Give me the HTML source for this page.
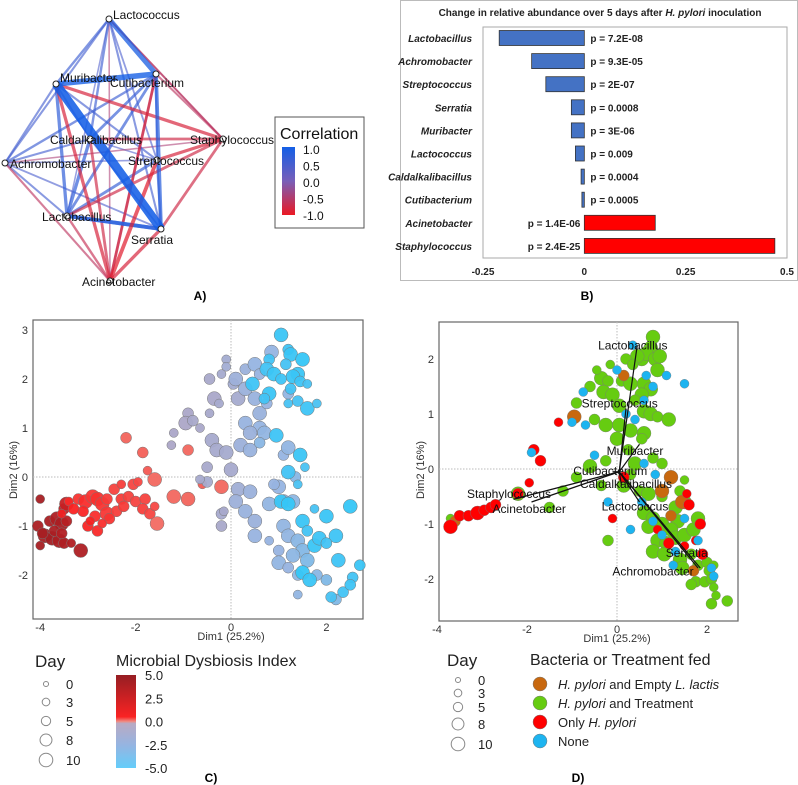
<!DOCTYPE html>
<html><head><meta charset="utf-8"><style>
body{margin:0;background:#fff;}
svg{display:block;font-family:"Liberation Sans",sans-serif;}
</style></head><body>
<svg id="fig" width="798" height="785" viewBox="0 0 798 785">
<g id="pA"></g>
<g id="pB"></g>
<g id="pC"></g>
<g id="pD"></g>
</svg>
<script>
// ---------- Panel A data ----------
const nodeNames=["Lactococcus","Muribacter","Cutibacterium","Caldalkalibacillus","Staphylococcus","Achromobacter","Streptococcus","Lactobacillus","Serratia","Acinetobacter"];
const edgeFrom=[1,0,0,2,7,3,0,0,0,0,0,0,1,1,1,1,1,2,2,2,2,3,3,3,3,5,5,5,6,6,7,4,4,4,4,4,4,4,4,9,9,9,9,9,9,9,9];
const edgeTo  =[8,2,1,8,8,2,5,3,6,7,8,4,5,3,6,7,2,5,6,7,9,5,6,7,8,6,7,8,7,8,8,1,2,3,5,6,7,8,0,1,2,3,5,6,7,8,0];
const edgeR   =[0.95,0.7,0.45,0.6,0.6,0.5,0.4,0.45,0.35,0.3,0.4,-0.4,0.4,0.35,0.4,0.55,0.75,0.45,0.4,0.5,-0.45,0.4,0.3,0.55,0.35,0.3,0.4,0.35,0.5,0.45,0.6,-0.55,-0.4,-0.5,-0.3,-0.55,-0.5,-0.5,-0.3,-0.55,-0.5,-0.5,-0.4,-0.6,-0.45,-0.55,-0.3];
// ---------- Panel B data ----------
const barGenera=["Lactobacillus","Achromobacter","Streptococcus","Serratia","Muribacter","Lactococcus","Caldalkalibacillus","Cutibacterium","Acinetobacter","Staphylococcus"];
const barValues=[-0.21,-0.13,-0.095,-0.032,-0.032,-0.022,-0.008,-0.006,0.175,0.47];
const barPvals=["p = 7.2E-08","p = 9.3E-05","p = 2E-07","p = 0.0008","p = 3E-06","p = 0.009","p = 0.0004","p = 0.0005","p = 1.4E-06","p = 2.4E-25"];
const barTicks=[-0.25,0,0.25,0.5];
const barTickLabels=["-0.25","0","0.25","0.5"];
// ---------- Panel C data ----------
const cX=[-4.0,-3.8,-3.65,-3.55,-3.45,-3.9,-3.75,-3.6,-3.5,-3.35,-4.05,-4.0,-3.15,-3.5,-3.45,-3.7,-3.95,-3.55,
-3.4,-3.2,-3.05,-2.9,-2.8,-2.7,-2.6,-3.1,-2.85,-2.6,-2.4,-2.3,-2.15,-2.0,-1.8,-1.85,-1.7,-1.6,-2.25,-2.45,-2.3,-2.05,-1.95,-3.3,-3.0,-2.8,-2.95,-3.55,-2.55,-2.7,
-2.2,-1.85,-1.6,-1.2,-0.9,-1.55,-0.2,-0.6,-1.75,-0.9,
-0.45,-0.35,-0.25,-0.9,-0.95,-0.8,-0.65,-1.2,-1.25,-0.45,-0.4,-0.3,-0.1,0.05,0.0,-0.5,0.15,-0.5,-0.65,0.15,-0.2,-0.2,-0.15,-0.1,-0.1,-0.2,
0.3,0.5,0.6,0.1,0.3,0.5,0.6,0.3,0.6,0.4,0.7,0.2,0.4,0.6,1.1,1.2,0.4,0.1,0.3,0.5,0.5,0.8,1.0,0.9,1.1,1.3,1.1,1.2,1.4,1.5,1.0,1.3,1.6,1.4,1.8,2.0,1.4,1.0,1.2,2.2,0.8,0.85,1.2,0.75,1.35,
1.05,0.8,1.2,1.25,1.5,1.15,1.4,0.45,0.75,0.9,1.05,1.25,1.3,1.45,1.6,0.8,1.4,0.7,1.6,1.8,1.2,0.95,1.45,1.2,1.05,1.2,1.5,1.6,1.75,1.85,2.0,2.5,2.2,1.5,1.65,2.25,2.1,2.35,2.55,2.5,2.7,1.4,2.0,1.75,1.55];
const cY=[-0.45,-0.9,-0.85,-0.95,-0.9,-1.2,-1.25,-1.3,-1.35,-1.35,-1.0,-1.4,-1.5,-0.65,-0.55,-1.1,-1.15,-1.15,
-0.5,-0.45,-0.5,-0.4,-0.45,-0.55,-0.45,-0.7,-0.8,-0.75,-0.7,-0.45,-0.4,-0.5,-0.45,-0.65,-0.75,-0.6,-0.6,-0.25,-0.15,-0.15,-0.1,-0.65,-1.0,-1.1,-0.9,-0.75,-0.85,-0.95,
0.8,0.5,-0.05,-0.4,-0.45,-0.95,-0.2,-0.15,0.13,0.55,
2.0,1.6,1.5,1.3,1.1,1.15,1.0,0.9,0.65,1.3,0.75,0.55,0.5,1.9,0.15,0.2,1.6,-0.1,-0.05,-0.25,-0.75,-1.0,-0.7,2.4,2.25,2.1,
2.2,2.3,2.1,2.0,1.8,1.6,1.3,1.1,1.0,0.9,0.9,0.65,0.55,0.7,0.45,0.6,-0.3,-0.5,-0.7,-0.9,-1.2,-0.55,-0.2,-0.15,-0.5,-0.5,-1.0,-1.2,-1.3,-1.5,-1.5,-1.6,-1.7,-2.0,-2.0,-2.1,-2.4,-1.75,-1.85,-2.5,-1.3,2.55,1.7,1.5,0.0,
2.9,2.4,2.6,2.5,2.4,2.3,2.1,1.9,2.2,2.1,2.0,1.8,2.05,1.95,1.9,1.7,1.55,1.6,1.4,1.5,1.5,0.85,0.45,0.1,-0.5,-0.55,-0.9,-1.1,-1.4,-1.25,-0.8,-0.6,-1.2,-1.95,-2.1,-1.7,-2.45,-2.35,-2.05,-2.2,-1.8,-0.15,-1.35,-0.65,0.2];
const cDay=[3,5,8,8,5,8,8,8,5,3,5,3,8,5,8,5,5,5,
3,5,8,8,8,8,5,5,5,8,5,5,5,5,5,5,5,3,5,5,3,5,3,5,5,5,3,3,5,3,
5,5,8,8,8,8,8,3,3,5,
5,8,3,5,8,5,3,3,3,3,8,8,8,5,8,5,8,5,3,8,5,5,3,3,3,3,
5,8,5,8,8,8,8,8,8,8,8,8,8,5,5,8,8,8,8,8,8,8,8,5,8,8,8,8,8,8,5,8,8,5,5,5,3,8,5,5,3,8,5,5,5,
8,5,5,8,8,5,8,8,8,8,5,5,8,5,3,8,5,5,8,3,3,8,8,8,8,8,8,5,8,8,8,8,8,8,8,8,5,5,5,5,5,3,5,3,3];
const cMdi=[4.6,4.5,4.4,4.5,4.2,4.6,4.7,4.5,4.4,4.3,4.5,4.6,4.4,4.0,3.8,4.5,4.6,4.3,
2.3,2.0,2.2,1.9,2.1,2.0,1.8,2.4,2.2,1.9,1.7,1.8,1.6,1.5,1.6,1.7,1.5,1.4,1.8,1.6,1.7,1.5,1.4,2.5,2.4,2.3,2.6,2.8,2.0,2.2,
0.6,0.7,0.5,0.5,0.6,0.4,0.5,0.8,0.9,0.5,
-0.6,-0.5,-0.8,-0.4,-0.3,-0.6,-0.5,-0.4,-0.3,-0.7,-0.8,-0.9,-1.0,-1.2,-0.9,-0.7,-1.0,-1.0,-0.8,-1.5,-0.8,-0.6,-0.7,-1.2,-1.3,-1.0,
-2.0,-2.5,-2.3,-1.8,-2.0,-2.2,-2.1,-2.3,-2.5,-2.0,-2.6,-1.9,-2.2,-2.8,-2.5,-2.6,-2.0,-1.8,-2.2,-2.0,-2.3,-2.6,-2.5,-2.4,-2.5,-2.7,-2.6,-2.6,-2.8,-2.9,-2.4,-2.7,-3.0,-2.7,-2.8,-3.0,-2.6,-2.6,-2.4,-3.0,-2.4,-2.5,-2.6,-2.4,-2.8,
-4.6,-4.4,-4.5,-4.6,-4.7,-4.3,-4.6,-4.5,-4.4,-4.6,-4.5,-4.4,-4.6,-4.5,-4.3,-4.6,-4.3,-4.4,-4.5,-4.2,-4.3,-4.5,-4.6,-4.4,-4.6,-4.7,-4.6,-4.4,-4.6,-4.5,-4.6,-4.7,-4.5,-4.7,-4.6,-4.5,-4.3,-4.4,-4.4,-4.5,-4.6,-4.2,-4.4,-4.3,-4.2];
const cXTicks=[-4,-2,0,2], cYTicks=[-2,-1,0,1,2,3];
const dayLevels=[0,3,5,8,10];
const mdiTicks=[5,2.5,0,-2.5,-5], mdiTickLabels=["5.0","2.5","0.0","-2.5","-5.0"];
// ---------- Panel D data ----------
const dX=[0.8,0.75,0.55,0.65,0.45,0.85,0.95,0.2,0.35,0.9,-0.35,-0.2,-0.45,0.1,0.3,0.6,0.75,0.55,-0.6,-0.3,-0.1,0.05,0.4,0.6,0.75,0.9,-0.9,-0.5,-0.25,0.05,0.3,0.6,0.55,1.15,0.0,-0.25,0.25,0.4,1.0,-0.6,-0.9,-0.35,0.15,-1.2,-2.2,-1.5,-3.7,0.5,0.7,1.0,1.4,1.5,1.3,1.5,1.35,0.6,0.8,1.0,1.2,0.7,0.9,1.1,1.3,1.5,1.7,1.8,0.8,1.05,1.4,1.45,1.65,1.8,2.0,2.05,2.15,1.75,1.95,2.1,2.15,1.65,2.2,2.1,2.45,-0.2,0.3,0.8,-0.15,
0.15,-0.95,1.2,1.0,1.45,1.2,1.7,-3.6,
-3.7,-3.5,-3.3,-3.1,-2.95,-2.8,-2.7,-2.2,-1.95,-1.85,-1.7,-1.3,0.15,-0.1,1.55,1.6,1.85,1.75,1.5,1.9,0.9,1.15,
0.35,0.0,0.65,1.1,1.5,0.8,-0.75,0.6,0.2,-1.0,-0.7,0.4,-0.5,0.6,0.85,-1.9,-0.2,0.3,0.8,1.0,1.5,1.3,1.25,2.1,2.15,1.8,0.55];
const dY=[2.4,2.2,2.0,2.1,2.05,2.0,2.05,2.0,1.9,1.8,1.65,1.6,1.8,1.6,1.55,1.55,1.45,1.35,1.5,1.4,1.35,1.15,1.25,1.05,1.0,0.95,1.2,0.9,0.8,0.8,0.7,0.65,0.55,0.9,0.55,0.15,0.35,0.1,0.1,0.05,-0.15,-0.3,-0.3,-0.4,-0.45,-0.7,-0.9,-0.4,-0.45,-0.5,-0.4,-0.2,-0.7,-0.6,-0.95,-0.8,-0.9,-1.0,-1.1,-1.05,-1.3,-1.35,-1.25,-1.2,-1.1,-0.9,-1.5,-1.55,-1.65,-1.8,-1.55,-1.75,-1.7,-1.85,-1.75,-2.05,-2.05,-2.0,-2.15,-2.1,-2.3,-2.45,-2.4,-1.3,-0.1,0.2,1.9,
1.7,0.95,-0.15,-0.4,-0.6,-0.85,-1.85,-0.95,
-1.05,-0.85,-0.85,-0.8,-0.75,-0.7,-0.65,-0.45,-0.25,0.35,0.15,0.85,-0.15,-0.9,-0.45,-0.65,-1.0,-1.3,-1.4,-1.55,-1.1,-1.35,
2.25,1.8,1.7,1.7,1.55,1.5,1.4,1.25,1.0,0.85,0.8,0.9,0.25,0.1,-0.1,0.3,-0.6,-1.1,-0.95,-1.2,-0.9,-1.5,-1.75,-1.8,-1.95,-1.3,-0.6];
const dDay=[8,8,8,8,8,8,8,5,5,8,8,5,3,5,8,8,8,8,5,8,8,8,5,8,8,5,5,5,8,8,8,8,5,8,8,5,5,8,5,8,5,5,8,5,8,5,3,5,8,5,5,3,8,8,8,8,8,8,8,8,8,8,8,8,8,8,8,8,8,8,5,5,5,5,3,5,5,5,3,5,3,5,5,5,5,5,3,
5,8,8,8,8,5,5,5,
8,5,5,8,5,5,5,5,3,5,5,3,5,3,3,5,5,3,3,5,3,5,
3,3,3,3,3,3,3,3,3,3,3,3,3,3,3,3,3,3,3,3,3,3,3,3,3,3,3];
const dGroup=[1,1,1,1,1,1,1,1,1,1,1,1,1,1,1,1,1,1,1,1,1,1,1,1,1,1,1,1,1,1,1,1,1,1,1,1,1,1,1,1,1,1,1,1,1,1,1,1,1,1,1,1,1,1,1,1,1,1,1,1,1,1,1,1,1,1,1,1,1,1,1,1,1,1,1,1,1,1,1,1,1,1,1,1,1,1,1,
0,0,0,0,0,0,0,0,
2,2,2,2,2,2,2,2,2,2,2,2,2,2,2,2,2,2,2,2,2,2,
3,3,3,3,3,3,3,3,3,3,3,3,3,3,3,3,3,3,3,3,3,3,3,3,3,3,3];
const groupLabels=["H. pylori and Empty L. lactis","H. pylori and Treatment","Only H. pylori","None"];
const arrowNames=["Lactobacillus","Streptococcus","Muribacter","Cutibacterium","Caldalkalibacillus","Staphylococcus","Acinetobacter","Lactococcus","Serratia","Achromobacter"];
const arrowX=[0.45,0.2,0.5,-0.1,0.1,-2.3,-1.9,0.5,1.85,1.8];
const arrowY=[2.25,1.1,0.45,-0.05,-0.3,-0.55,-0.6,-0.6,-1.8,-1.8];
const arrowLabX=[0.35,0.06,0.4,-0.15,0.2,-2.4,-1.95,0.4,1.55,0.8];
const arrowLabY=[2.25,1.19,0.33,-0.04,-0.27,-0.45,-0.73,-0.68,-1.53,-1.86];
const dXTicks=[-4,-2,0,2], dYTicks=[-2,-1,0,1,2];

const NS="http://www.w3.org/2000/svg";
function mk(parent,tag,attrs,text){const e=document.createElementNS(NS,tag);for(const k in attrs)e.setAttribute(k,attrs[k]);if(text!==undefined)e.textContent=text;parent.appendChild(e);return e;}
function lerp(a,b,t){return a.map((v,i)=>Math.round(v+(b[i]-v)*t));}
function rgb(c){return `rgb(${c[0]},${c[1]},${c[2]})`;}

// ---------- Panel A ----------
(function(){
const g=document.getElementById('pA');
const nX=[109,56,156,90,223,5,157,67,161,110], nY=[19,84,74,139,139,163,160,216,229,281];
const blue=[20,95,230], purple=[120,95,185], red=[235,25,35];
function corrColor(r){return r>=0?lerp(purple,blue,Math.min(1,r*1.3)):lerp(purple,red,Math.min(1,-r*1.5));}
const order=edgeR.map((r,i)=>i).sort((a,b)=>Math.abs(edgeR[a])-Math.abs(edgeR[b]));
order.forEach(i=>{
 const a=edgeFrom[i],b=edgeTo[i],r=edgeR[i];
 const e=mk(g,'line',{x1:nX[a],y1:nY[a],x2:nX[b],y2:nY[b],stroke:rgb(corrColor(r)),'stroke-width':1+9*Math.pow(Math.abs(r),2.3),'stroke-opacity':0.45+0.45*Math.abs(r)});
 
 
});
const lx=[113,60,110,50,190,10,128,42,131,82], ly=[19,82,87,144,144,168,165,221,244,286];
nodeNames.forEach((n,i)=>{
 const c=mk(g,'circle',{cx:nX[i],cy:nY[i],r:3,fill:'#fff',stroke:'#222','stroke-width':1});
 
 
 const t=mk(g,'text',{x:lx[i],y:ly[i],'font-size':12,fill:'#111'},n);
 
 
});
const box=mk(g,'rect',{x:275,y:117,width:89,height:111,fill:'#fff',stroke:'#555','stroke-width':1});

const t=mk(g,'text',{x:280,y:139,'font-size':16,fill:'#111'},'Correlation');

const defs=mk(g,'defs',{});const lg=mk(defs,'linearGradient',{id:'corrg',x1:0,y1:0,x2:0,y2:1});
mk(lg,'stop',{offset:'0','stop-color':rgb(blue)});mk(lg,'stop',{offset:'0.5','stop-color':rgb(purple)});mk(lg,'stop',{offset:'1','stop-color':rgb(red)});
const cb=mk(g,'rect',{x:282,y:147,width:13,height:68,fill:'url(#corrg)'});

["1.0","0.5","0.0","-0.5","-1.0"].forEach((s,i)=>{const tt=mk(g,'text',{x:303,y:154+i*16.5,'font-size':12,fill:'#111'},s);});
const pl=mk(g,'text',{x:200,y:300,'font-size':12,'font-weight':'bold','text-anchor':'middle'},'A)');

})();

// ---------- Panel B ----------
(function(){
const g=document.getElementById('pB');
const outer=mk(g,'rect',{x:400.5,y:0.5,width:397,height:280,fill:'#fff',stroke:'#bbb'});

const title=mk(g,'text',{x:600,y:16,'font-size':10,'font-weight':'bold','text-anchor':'middle',fill:'#222'});

title.innerHTML='Change in relative abundance over 5 days after <tspan font-style="italic">H. pylori</tspan> inoculation';
const box=mk(g,'rect',{x:483,y:27,width:304,height:231,fill:'#fff',stroke:'#aaa'});

const x0=483,x1=787,v0=-0.25,v1=0.5;
const sx=v=>x0+(v-v0)/(v1-v0)*(x1-x0);
barTicks.forEach((v,i)=>{const t=mk(g,'text',{x:sx(v),y:275,'font-size':10,'font-weight':'bold','text-anchor':'middle',fill:'#222'},barTickLabels[i]);});
barGenera.forEach((name,i)=>{
 const cy=38+i*23.1, v=barValues[i];
 const xa=Math.min(sx(0),sx(v)), w=Math.abs(sx(v)-sx(0));
 const r=mk(g,'rect',{x:xa,y:cy-7.5,width:w,height:15,fill:v<0?'#4472c4':'#ff0000',stroke:'#333','stroke-width':0.8});
 
 const l=mk(g,'text',{x:472,y:cy+4,'font-size':10,'font-weight':'bold','font-style':'italic','text-anchor':'end',fill:'#222'},name);
 
 const p=mk(g,'text',{x:v<0?sx(0)+6:sx(0)-4,y:cy+4,'font-size':10,'font-weight':'bold','text-anchor':v<0?'start':'end',fill:'#222'},barPvals[i]);
 
});
const pl=mk(g,'text',{x:587,y:300,'font-size':12,'font-weight':'bold','text-anchor':'middle'},'B)');

})();

function dayR(d){return 3+d*0.5;}

// ---------- Panel C ----------
(function(){
const g=document.getElementById('pC');
const L=33,R=363,T=320,B=619;
const sx=v=>231+v*47.7, sy=v=>477-v*49;
const box=mk(g,'rect',{x:L,y:T,width:R-L,height:B-T,fill:'#fff',stroke:'#666','stroke-width':1.2});

mk(g,'line',{x1:sx(0),y1:T,x2:sx(0),y2:B,stroke:'#bbb','stroke-dasharray':'1.5,1.5'});
mk(g,'line',{x1:L,y1:sy(0),x2:R,y2:sy(0),stroke:'#bbb','stroke-dasharray':'1.5,1.5'});
cXTicks.forEach(v=>{const t=mk(g,'text',{x:sx(v),y:B+12,'font-size':11,'text-anchor':'middle',fill:'#333'},String(v));});
cYTicks.forEach(v=>{const t=mk(g,'text',{x:28,y:sy(v)+4,'font-size':11,'text-anchor':'end',fill:'#333'},String(v));});
const xt=mk(g,'text',{x:231,y:640,'font-size':11,'text-anchor':'middle',fill:'#333'},'Dim1 (25.2%)');
const yt=mk(g,'text',{x:17,y:470,'font-size':11,'text-anchor':'middle',fill:'#333',transform:'rotate(-90 17 470)'},'Dim2 (16%)');
const dark=[150,30,35], red=[250,35,35], cyan=[40,200,250];
function mdiCol(m){ if(m>=2.5) return lerp(red,dark,(m-2.5)/2.5); if(m>=0) return lerp([240,120,110],red,m/2.5); if(m>=-2.5) return lerp([175,165,195],[150,180,225],-m/2.5); return lerp([150,180,225],cyan,(-m-2.5)/2.5);}
cX.forEach((x,i)=>{
 const c=mk(g,'circle',{cx:sx(x),cy:sy(cY[i]),r:dayR(cDay[i]),fill:rgb(mdiCol(cMdi[i])),stroke:'#777','stroke-width':0.5,'fill-opacity':0.95});
 
 
});
const dt=mk(g,'text',{x:35,y:667,'font-size':17,fill:'#222'},'Day');
const ly=[684,702,721,740,760];
dayLevels.forEach((d,i)=>{
 const c=mk(g,'circle',{cx:46,cy:ly[i],r:dayR(d)*0.85,fill:'none',stroke:'#888'});
 const t=mk(g,'text',{x:66,y:ly[i]+5,'font-size':13,fill:'#222'},String(d));
});
const mt=mk(g,'text',{x:116,y:666,'font-size':16,fill:'#222'},'Microbial Dysbiosis Index');
const defs=mk(g,'defs',{});const lg=mk(defs,'linearGradient',{id:'mdig',x1:0,y1:0,x2:0,y2:1});
[[0,dark],[0.45,red],[0.5,[240,140,130]],[0.52,[185,170,195]],[0.75,[150,180,225]],[1,[100,205,250]]].forEach(s=>mk(lg,'stop',{offset:s[0],'stop-color':rgb(s[1])}));
const cb=mk(g,'rect',{x:116,y:675,width:20,height:93,fill:'url(#mdig)'});
mdiTicks.forEach((v,i)=>{const t=mk(g,'text',{x:145,y:675+(5-v)/10*93+5,'font-size':13,fill:'#222'},mdiTickLabels[i]);});
const pl=mk(g,'text',{x:211,y:782,'font-size':12,'font-weight':'bold','text-anchor':'middle'},'C)');

})();

// ---------- Panel D ----------
(function(){
const g=document.getElementById('pD');
const L=439,R=738,T=322,B=621;
const sx=v=>617+v*45, sy=v=>469-v*55;
const box=mk(g,'rect',{x:L,y:T,width:R-L,height:B-T,fill:'#fff',stroke:'#666','stroke-width':1.2});

mk(g,'line',{x1:sx(0),y1:T,x2:sx(0),y2:B,stroke:'#bbb','stroke-dasharray':'1.5,1.5'});
mk(g,'line',{x1:L,y1:sy(0),x2:R,y2:sy(0),stroke:'#bbb','stroke-dasharray':'1.5,1.5'});
dXTicks.forEach(v=>{const t=mk(g,'text',{x:sx(v),y:B+12,'font-size':11,'text-anchor':'middle',fill:'#333'},String(v));});
dYTicks.forEach(v=>{const t=mk(g,'text',{x:434,y:sy(v)+4,'font-size':11,'text-anchor':'end',fill:'#333'},String(v));});
const xt=mk(g,'text',{x:617,y:642,'font-size':11,'text-anchor':'middle',fill:'#333'},'Dim1 (25.2%)');
const yt=mk(g,'text',{x:424,y:470,'font-size':11,'text-anchor':'middle',fill:'#333',transform:'rotate(-90 424 470)'},'Dim2 (16%)');
const gcol=['#c8680f','#66cc11','#ff0000','#1db4f0'];
dX.forEach((x,i)=>{
 const c=mk(g,'circle',{cx:sx(x),cy:sy(dY[i]),r:dayR(dDay[i]),fill:gcol[dGroup[i]],stroke:'#777','stroke-width':0.4});
 
 
});
arrowNames.forEach((n,i)=>{
 const l=mk(g,'line',{x1:sx(0.05),y1:sy(-0.05),x2:sx(arrowX[i]),y2:sy(arrowY[i]),stroke:'#111','stroke-width':1.2});
 
 const t=mk(g,'text',{x:sx(arrowLabX[i]),y:sy(arrowLabY[i])+4,'font-size':12,'text-anchor':'middle',fill:'#111'},n);
 
});
const dt=mk(g,'text',{x:447,y:666,'font-size':17,fill:'#222'},'Day');
const ly=[680,693,707,724,744];
dayLevels.forEach((d,i)=>{
 const c=mk(g,'circle',{cx:458,cy:ly[i],r:dayR(d)*0.85,fill:'none',stroke:'#888'});
 const t=mk(g,'text',{x:478,y:ly[i]+5,'font-size':13,fill:'#222'},String(d));
});
const bt=mk(g,'text',{x:530,y:665,'font-size':16,fill:'#222'},'Bacteria or Treatment fed');
const html=['<tspan font-style="italic">H. pylori</tspan> and Empty <tspan font-style="italic">L. lactis</tspan>','<tspan font-style="italic">H. pylori</tspan> and Treatment','Only <tspan font-style="italic">H. pylori</tspan>','None'];
groupLabels.forEach((s,i)=>{
 const y=684+i*19;
 const c=mk(g,'circle',{cx:540,cy:y,r:7,fill:gcol[i],stroke:'#777','stroke-width':0.5});
 const t=mk(g,'text',{x:558,y:y+5,'font-size':13,fill:'#222'});t.innerHTML=html[i];
});
const pl=mk(g,'text',{x:578,y:782,'font-size':12,'font-weight':'bold','text-anchor':'middle'},'D)');

})();
</script>
</body></html>
